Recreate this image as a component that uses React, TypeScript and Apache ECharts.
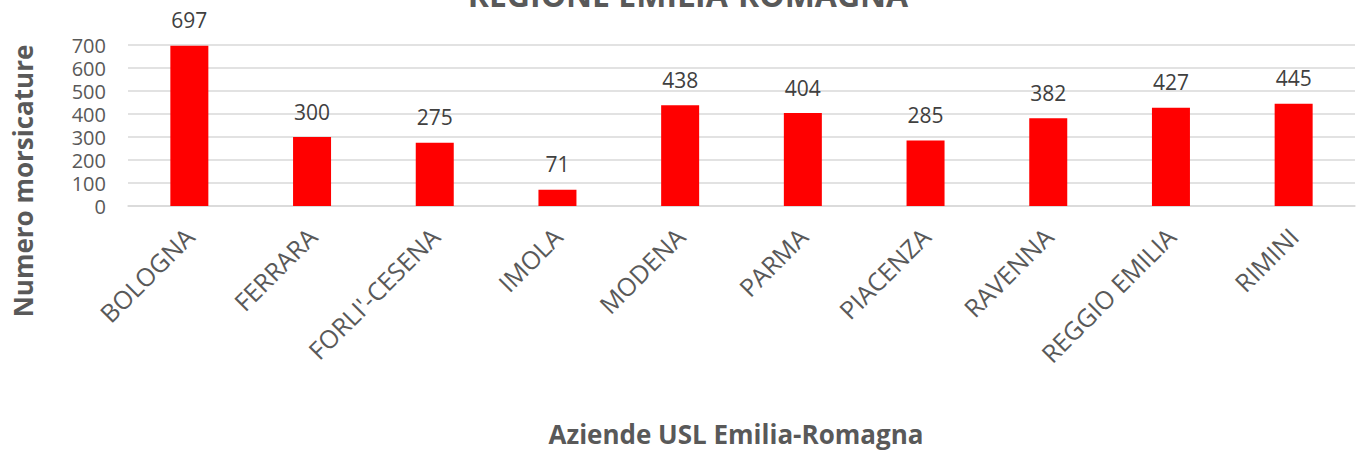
import React, { useEffect, useRef } from "react";
import * as echarts from "echarts";

const categories = ["BOLOGNA", "FERRARA", "FORLI'-CESENA", "IMOLA", "MODENA", "PARMA", "PIACENZA", "RAVENNA", "REGGIO EMILIA", "RIMINI"];
const values = [697, 300, 275, 71, 438, 404, 285, 382, 427, 445];
const chartTitle = "REGIONE EMILIA-ROMAGNA";
const xAxisTitle = "Aziende USL Emilia-Romagna";
const yAxisTitle = "Numero morsicature";

const FONT = "'Open Sans', 'Noto Sans', sans-serif";

export default function App() {
  const ref = useRef<HTMLDivElement>(null);
  useEffect(() => {
    if (!ref.current) return;
    const chart = echarts.init(ref.current, null, { renderer: "svg" });
    chart.setOption({
      animation: false,
      backgroundColor: "#ffffff",
      grid: { left: 128, right: 5, top: 45, bottom: 251, containLabel: false },
      graphic: [
        {
          type: "text",
          x: 688,
          y: -6,
          style: {
            text: chartTitle,
            fill: "#595959",
            font: `bold 32px ${FONT}`,
            align: "center",
            verticalAlign: "middle",
          },
        },
        {
          type: "text",
          x: 736,
          y: 434,
          style: {
            text: xAxisTitle,
            fill: "#595959",
            font: `bold 26px ${FONT}`,
            align: "center",
            verticalAlign: "middle",
          },
        },
        {
          type: "text",
          x: 23,
          y: 181,
          rotation: Math.PI / 2,
          style: {
            text: yAxisTitle,
            fill: "#595959",
            font: `bold 26px ${FONT}`,
            align: "center",
            verticalAlign: "middle",
          },
        },
      ],
      xAxis: {
        type: "category",
        data: categories,
        axisLine: { show: true, lineStyle: { color: "#d9d9d9", width: 1.5 } },
        axisTick: { show: false },
        axisLabel: {
          rotate: 45,
          interval: 0,
          margin: 26,
          color: "#595959",
          fontFamily: FONT,
          fontSize: 25,
        },
      },
      yAxis: {
        type: "value",
        min: 0,
        max: 700,
        interval: 100,
        axisLine: { show: false },
        axisTick: { show: false },
        splitLine: { lineStyle: { color: "#d9d9d9", width: 1.5 } },
        axisLabel: {
          margin: 22,
          color: "#595959",
          fontFamily: FONT,
          fontSize: 20,
          lineHeight: 20,
        },
      },
      series: [
        {
          type: "bar",
          data: values,
          barWidth: 38,
          itemStyle: { color: "#ff0000" },
          label: {
            show: true,
            position: "top",
            distance: 15,
            color: "#404040",
            fontFamily: FONT,
            fontSize: 21,
          },
        },
      ],
    });
    return () => chart.dispose();
  }, []);
  return <div ref={ref} style={{ width: 1360, height: 457, position: "absolute", left: 0, top: 0 }} />;
}
